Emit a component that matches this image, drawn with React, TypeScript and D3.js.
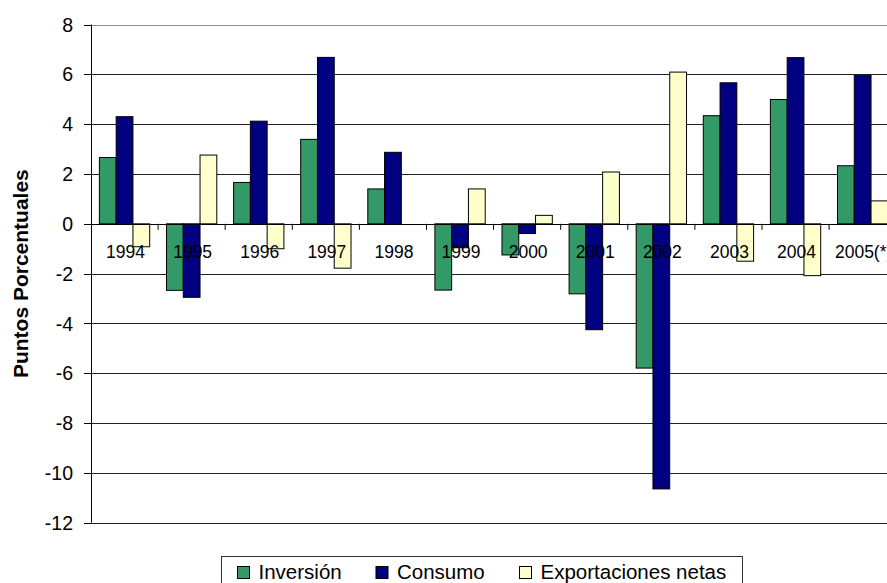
import React from "react";
import * as d3 from "d3";

const categories = ["1994", "1995", "1996", "1997", "1998", "1999", "2000", "2001", "2002", "2003", "2004", "2005(*)"];
const inversion = [2.66, -2.67, 1.66, 3.39, 1.4, -2.66, -1.25, -2.81, -5.79, 4.34, 4.99, 2.33];
const consumo = [4.3, -2.95, 4.12, 6.68, 2.87, -0.96, -0.39, -4.25, -10.64, 5.66, 6.67, 5.96];
const exportacionesNetas = [-0.92, 2.76, -1.0, -1.78, 0, 1.4, 0.34, 2.08, 6.09, -1.5, -2.08, 0.92];
const seriesNames = ["Inversión", "Consumo", "Exportaciones netas"];
const seriesColors = ["#339966", "#000080", "#FFFFCC"];
const yTicks = [8, 6, 4, 2, 0, -2, -4, -6, -8, -10, -12];

const W = 887;
const H = 583;
const font = "Arial, 'Liberation Sans', Helvetica, sans-serif";

export default function App() {
  const seriesValues = [inversion, consumo, exportacionesNetas];
  const left = 91;
  const bandStep = 67.1;
  const x0 = d3
    .scaleBand<string>()
    .domain(categories)
    .range([left, left + bandStep * categories.length])
    .padding(0);
  const x1 = d3
    .scaleBand<string>()
    .domain(seriesNames)
    .range([0, x0.bandwidth()])
    .paddingInner(0)
    .paddingOuter(0.5);
  const y = d3.scaleLinear().domain([-12, 8]).range([522.8, 24.5]);
  const y0 = y(0);
  const plotRight = left + bandStep * categories.length;

  return (
    <svg
      width={W}
      height={H}
      style={{ position: "absolute", left: 0, top: 0, background: "#fff" }}
      fontFamily={font}
    >
      <rect x={0} y={0} width={W} height={H} fill="#fff" />
      {/* gridlines */}
      {yTicks.map((t) => (
        <line
          key={"g" + t}
          x1={left}
          x2={plotRight}
          y1={Math.round(y(t)) + 0.5}
          y2={Math.round(y(t)) + 0.5}
          stroke={t === 8 ? "#8c8c8c" : "#222"}
          strokeWidth={1}
        />
      ))}
      {/* bars */}
      {categories.map((c, i) => (
        <g key={c} transform={`translate(${x0(c)},0)`}>
          {seriesNames.map((s, k) => {
            const v = seriesValues[k][i];
            if (v === 0) return null;
            const yy = y(Math.max(0, v));
            const h = Math.abs(y(v) - y0);
            return (
              <rect
                key={s}
                x={x1(s)}
                y={yy}
                width={x1.bandwidth()}
                height={h}
                fill={seriesColors[k]}
                stroke="#000"
                strokeWidth={1}
              />
            );
          })}
        </g>
      ))}
      {/* y axis */}
      <line x1={left + 0.5} x2={left + 0.5} y1={y(8)} y2={y(-12)} stroke="#000" />
      {yTicks.map((t) => (
        <g key={"t" + t}>
          <line
            x1={left - 7}
            x2={left}
            y1={Math.round(y(t)) + 0.5}
            y2={Math.round(y(t)) + 0.5}
            stroke="#000"
          />
          <text
            x={73}
            y={y(t)}
            dy="0.36em"
            textAnchor="end"
            fontSize={19.5}
            fill="#000"
          >
            {t}
          </text>
        </g>
      ))}
      {/* category axis at zero */}
      <line x1={left} x2={plotRight} y1={Math.round(y0) + 0.5} y2={Math.round(y0) + 0.5} stroke="#000" />
      {categories.map((c) => (
        <line
          key={"ct" + c}
          x1={(x0(c) as number) + bandStep}
          x2={(x0(c) as number) + bandStep}
          y1={y0}
          y2={y0 + 6}
          stroke="#000"
        />
      ))}
      {categories.map((c) => (
        <text
          key={"cl" + c}
          x={(x0(c) as number) + bandStep / 2 + 1}
          y={258}
          textAnchor="middle"
          fontSize={17.5}
          fill="#000"
        >
          {c}
        </text>
      ))}
      {/* axis title */}
      <text
        transform={`translate(28,${(y(8) + y(-12)) / 2}) rotate(-90)`}
        textAnchor="middle"
        fontWeight="bold"
        fontSize={21}
        fill="#000"
      >
        Puntos Porcentuales
      </text>
      {/* legend */}
      <rect x={221.5} y={556.5} width={521} height={40} fill="#fff" stroke="#333" />
      {seriesNames.map((s, k) => {
        const xs = [237.5, 376, 519.5][k];
        return (
          <g key={"lg" + s}>
            <rect x={xs} y={566.5} width={12} height={12} fill={seriesColors[k]} stroke="#000" />
            <text x={xs + 21} y={579.3} fontSize={20.5} fill="#000">
              {s}
            </text>
          </g>
        );
      })}
    </svg>
  );
}
